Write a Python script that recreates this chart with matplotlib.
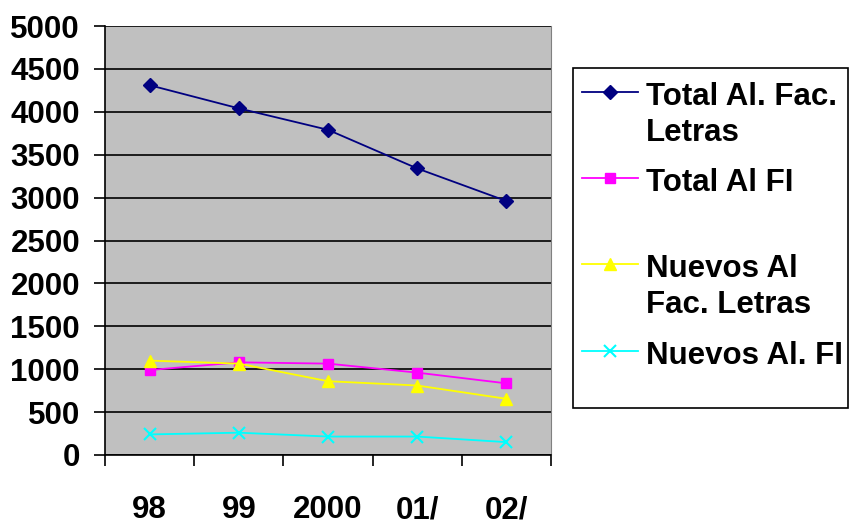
import matplotlib
matplotlib.use('Agg')
import matplotlib.pyplot as plt
from matplotlib.lines import Line2D
from matplotlib.patches import Rectangle
import numpy as np

plt.rcParams['font.family'] = ['Liberation Sans', 'DejaVu Sans']
plt.rcParams['font.weight'] = 'bold'

years = ['98', '99', '2000', '01/', '02/']
total_letras = [4310, 4040, 3790, 3340, 2960]
total_fi = [990, 1080, 1065, 960, 835]
nuevos_letras = [1100, 1065, 860, 810, 655]
nuevos_fi = [240, 260, 215, 215, 150]

labels = ['Total Al. Fac.\nLetras', 'Total Al FI',
          'Nuevos Al\nFac. Letras', 'Nuevos Al. FI']
colors = ['#000080', '#FF00FF', '#FFFF00', '#00FFFF']
markers = ['D', 's', '^', 'x']
msizes = [7, 7, 9, 9]
fsize = 22.5

W, H = 849, 522
fig = plt.figure(figsize=(W / 100, H / 100), dpi=100)
ax = fig.add_axes([105 / W, 1 - 455 / H, (551 - 105) / W, (455 - 26) / H])
ax.set_facecolor('#C0C0C0')

x = np.arange(len(years))
series = [total_letras, total_fi, nuevos_letras, nuevos_fi]
for s, c, m, ms in zip(series, colors, markers, msizes):
    ax.plot(x, s, color=c, marker=m, markersize=ms, linewidth=1.3,
            markeredgewidth=1.5 if m == 'x' else 1.0,
            markeredgecolor=c, markerfacecolor=c, zorder=3)

ax.set_xlim(-0.5, len(years) - 0.5)
ax.set_ylim(0, 5000)
ax.set_yticks(np.arange(0, 5001, 500))
ax.yaxis.grid(True, color='black', linewidth=1.2)
ax.set_axisbelow(True)

ax.set_xticks(x)
ax.set_xticklabels(years, fontsize=fsize, fontweight='bold')
ax.set_xticks(np.arange(-0.5, len(years), 1), minor=True)
ax.tick_params(axis='x', which='major', length=0, pad=29)
ax.tick_params(axis='x', which='minor', length=8, width=1.2, direction='out')
ax.tick_params(axis='y', length=8, width=1.2, pad=10, labelsize=fsize)
for t in ax.get_yticklabels():
    t.set_fontweight('bold')

ax.spines['top'].set_visible(False)
ax.spines['right'].set_color('#808080')
ax.spines['left'].set_linewidth(1.2)
ax.spines['bottom'].set_linewidth(1.2)


# legend drawn by hand to keep the Excel-like spacing
def fx(px):
    return px / W


def fy(py):
    return 1 - py / H


fig.add_artist(Rectangle((fx(573), fy(408)), fx(849 - 573 - 1), (408 - 68) / H,
                         transform=fig.transFigure, facecolor='white',
                         edgecolor='black', linewidth=1.2))
entry_y = [92, 178, 264, 351]
for lab, c, m, ms, yy in zip(labels, colors, markers, msizes, entry_y):
    fig.add_artist(Line2D([fx(582), fx(638)], [fy(yy), fy(yy)],
                          transform=fig.transFigure, color=c, linewidth=1.3))
    fig.add_artist(Line2D([fx(610)], [fy(yy)], transform=fig.transFigure,
                          color=c, marker=m, markersize=ms,
                          markeredgewidth=1.5 if m == 'x' else 1.0))
    for i, line in enumerate(lab.split('\n')):
        fig.text(fx(646), fy(yy + 13 + 36 * i), line, fontsize=fsize,
                 fontweight='bold', va='baseline', ha='left')

fig.savefig('out.png', dpi=100)
